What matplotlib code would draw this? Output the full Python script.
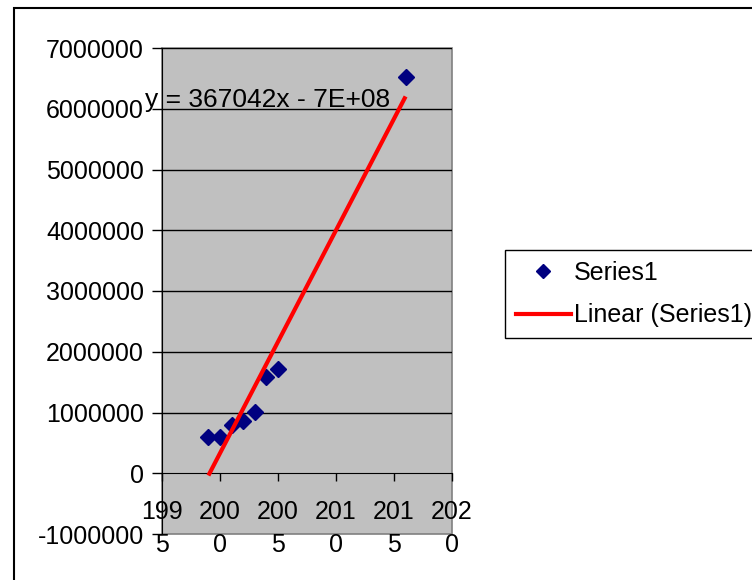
import numpy as np
import matplotlib
matplotlib.use("Agg")
import matplotlib.pyplot as plt
from matplotlib.patches import Rectangle
from matplotlib.lines import Line2D

plt.rcParams['font.family'] = ['Liberation Sans', 'DejaVu Sans']

# Observed values (year, amount)
years = [1999, 2000, 2001, 2002, 2003, 2004, 2005, 2016]
values = [590000, 590000, 790000, 857000, 1016000, 1577000, 1713000, 6516000]

# Linear trendline as reported by the equation label
trend_slope = 367042
trend_label = "y = 367042x - 7E+08"

x_ticks = [1995, 2000, 2005, 2010, 2015, 2020]
x_tick_labels = ["199\n5", "200\n0", "200\n5", "201\n0", "201\n5", "202\n0"]
y_ticks = [-1000000, 0, 1000000, 2000000, 3000000, 4000000, 5000000, 6000000, 7000000]
y_tick_labels = [str(v) for v in y_ticks]

W, H = 752, 580
fig = plt.figure(figsize=(W / 100, H / 100), dpi=100)
fig.patch.set_facecolor('white')

left, right, top, bottom = 162, 452, 48, 534
ax = fig.add_axes([left / W, 1 - bottom / H, (right - left) / W, (bottom - top) / H])
ax.set_facecolor('#C0C0C0')

xa = np.array(years, dtype=float)
ya = np.array(values, dtype=float)
intercept = ya.mean() - trend_slope * xa.mean()
xl = np.array([xa.min(), xa.max()])
yl = trend_slope * xl + intercept

ax.set_xlim(1995, 2020)
ax.set_ylim(-1000000, 7000000)

# horizontal gridlines
for v in y_ticks[2:]:
    ax.axhline(v, color='black', lw=1.0, zorder=1)

ax.plot(xa, ya, linestyle='none', marker='D', markersize=8.5,
        color='#000080', zorder=3, clip_on=False)
ax.plot(xl, yl, color='#FF0000', lw=3.0, zorder=4, solid_capstyle='butt')

for s in ['top', 'right']:
    ax.spines[s].set_visible(False)
ax.spines['left'].set_color('black')
ax.spines['bottom'].set_position(('data', 0))
ax.spines['bottom'].set_color('black')

# plot area frame
ax.add_patch(Rectangle((0, 0), 1, 1, transform=ax.transAxes, fill=False,
                       edgecolor='#808080', lw=1.2, zorder=0.5, clip_on=False))

ax.set_yticks(y_ticks)
ax.set_yticklabels(y_tick_labels)
ax.set_xticks(x_ticks)
ax.set_xticklabels(x_tick_labels, linespacing=1.5)
ax.tick_params(axis='y', direction='out', length=7, width=1, labelsize=18, pad=6)
ax.tick_params(axis='x', direction='out', length=6, width=1, labelsize=18, pad=13)

fig.text(145 / W, 1 - 100 / H, trend_label, fontsize=19, va='center', ha='left')

handles = [
    Line2D([], [], linestyle='none', marker='D', markersize=7, color='#000080'),
    Line2D([], [], color='#FF0000', lw=3.0),
]
leg = fig.legend(handles, ['Series1', 'Linear (Series1)'], loc='upper left',
                 bbox_to_anchor=(505 / W, 1 - 250 / H), fontsize=18,
                 frameon=True, fancybox=False, framealpha=1, edgecolor='black',
                 handlelength=2.2, handletextpad=0.12, borderpad=0.42,
                 labelspacing=0.75, borderaxespad=0)
leg.get_frame().set_linewidth(1.0)

# chart area border
fig.patches.append(Rectangle((14 / W, -0.1), 1.2, 1.1 - 8 / H, transform=fig.transFigure,
                             fill=False, edgecolor='black', lw=1.5))

fig.savefig('out.png', dpi=100)
